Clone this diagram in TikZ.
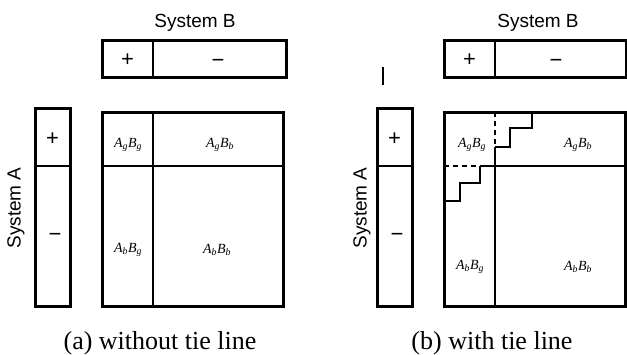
\documentclass[tikz,border=0pt]{standalone}
\usepackage{fontspec}
\setmainfont{Liberation Serif}
\setsansfont{Liberation Sans}

\tikzset{
	frame/.style={line width=3pt},
	divider/.style={line width=1.2pt},
	tiedash/.style={divider, dash pattern=on 5pt off 4pt},
	sysname/.style={font=\sffamily\fontsize{19}{19}\selectfont},
	sign/.style={font=\sffamily\fontsize{22}{22}\selectfont},
	cell/.style={font=\itshape\fontsize{14}{14}\selectfont},
	caption/.style={font=\fontsize{26}{26}\selectfont, anchor=base}
}

\begin{document}
\begin{tikzpicture}[x=1pt,y=-1pt]
	\useasboundingbox (0,0) rectangle (627,354);
	% (a) without tie line
	\node[sysname] (sysBa) at (195,23) {System B};
	\draw[frame] (102,40) rectangle (286,77);
	\draw[divider] (153,40) -- (153,77);
	\node[sign] (plusBa) at (127.5,60) {+};
	\node[sign] (minusBa) at (218,63) {−};
	\node[sysname, rotate=90] (sysAa) at (16,208) {System A};
	\draw[frame] (35,108) rectangle (70,306);
	\draw[divider] (35,166) -- (70,166);
	\node[sign] (plusAa) at (52.5,139) {+};
	\node[sign] (minusAa) at (55,237) {−};
	\draw[frame] (102,112) rectangle (283,306);
	\draw[divider] (153,112) -- (153,306);
	\draw[divider] (102,166) -- (283,166);
	\node[cell] (ggA) at (128,145) {A\textsubscript{g}B\textsubscript{g}};
	\node[cell] (gbA) at (220,145) {A\textsubscript{g}B\textsubscript{b}};
	\node[cell] (bgA) at (128,250) {A\textsubscript{b}B\textsubscript{g}};
	\node[cell] (bbA) at (217,250) {A\textsubscript{b}B\textsubscript{b}};
	\node[caption] (capa) at (160,349) {(a) without tie line};
	% (b) with tie line
	\node[sysname] (sysBb) at (538,23) {System B};
	\draw[frame] (444,40) rectangle (626,77);
	\draw[divider] (495,40) -- (495,77);
	\node[sign] (plusBb) at (469.5,60) {+};
	\node[sign] (minusBb) at (556,63) {−};
	\draw[divider] (383,67) -- (383,85);
	\node[sysname, rotate=90] (sysAb) at (362,208) {System A};
	\draw[frame] (377,108) rectangle (412,306);
	\draw[divider] (377,166) -- (412,166);
	\node[sign] (plusAb) at (394.5,139) {+};
	\node[sign] (minusAb) at (397,237) {−};
	\draw[frame] (444,112) rectangle (625,306);
	\draw[tiedash] (495,112) -- (495,147);
	\draw[divider] (495,147) -- (510,147) -- (510,128) -- (532,128) -- (532,112);
	\draw[divider] (495,147) -- (495,306);
	\draw[tiedash] (444,166) -- (480,166);
	\draw[divider] (480,166) -- (625,166);
	\draw[divider] (480,166) -- (480,183) -- (460,183) -- (460,201) -- (444,201);
	\node[cell] (ggB) at (472,145) {A\textsubscript{g}B\textsubscript{g}};
	\node[cell] (gbB) at (578,145) {A\textsubscript{g}B\textsubscript{b}};
	\node[cell] (bgB) at (470,267) {A\textsubscript{b}B\textsubscript{g}};
	\node[cell] (bbB) at (578,267) {A\textsubscript{b}B\textsubscript{b}};
	\node[caption] (capb) at (492,349) {(b) with tie line};
\end{tikzpicture}
\end{document}
